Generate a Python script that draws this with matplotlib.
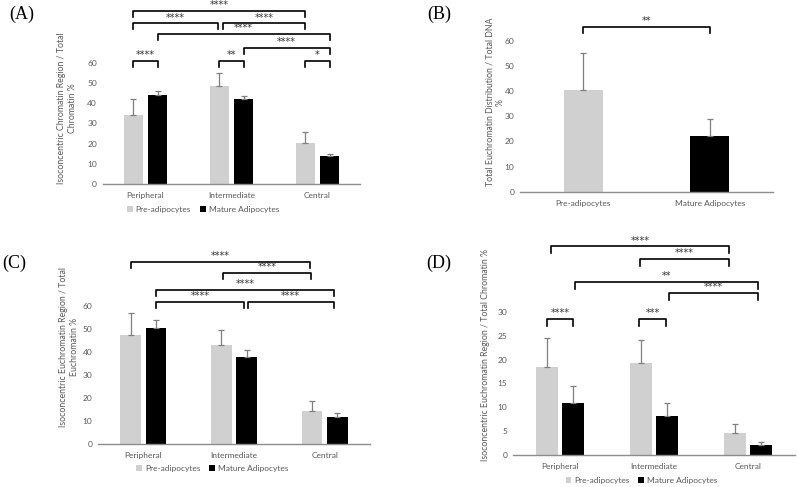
import numpy as np
import matplotlib.pyplot as plt

W, H = 798, 487

# Daten
regions = ["Peripheral", "Intermediate", "Central"]
series = ["Pre-adipocytes", "Mature Adipocytes"]

a_pre = [34, 48.5, 20.5]
a_pre_err = [8, 6.5, 5.5]
a_mat = [44, 42, 14]
a_mat_err = [2, 1.6, 0.8]

b_groups = ["Pre-adipocytes", "Mature Adipocytes"]
b_vals = [40.5, 22]
b_err = [14.5, 7]

c_pre = [47.5, 43, 14.3]
c_pre_err = [9.3, 6.5, 4.5]
c_mat = [50.5, 37.8, 11.8]
c_mat_err = [3.2, 2.9, 1.8]

d_pre = [18.4, 19.3, 4.7]
d_pre_err = [6.2, 4.9, 1.8]
d_mat = [11, 8.2, 2.1]
d_mat_err = [3.4, 2.7, 0.7]

# Signifikanz-Klammern: (x1, x2, y, Beschriftung)
a_sig = [(-0.14, 1.86, 86.2, "****"), (-0.14, 0.84, 80, "****"), (0.90, 1.86, 80, "****"),
         (0.14, 2.14, 74.6, "****"), (1.14, 2.14, 67.6, "****"), (-0.14, 0.14, 61.1, "****"),
         (0.86, 1.14, 61.1, "**"), (1.86, 2.14, 61.1, "*")]
b_sig = [(0, 1, 65.6, "**")]
c_sig = [(-0.14, 1.84, 79.3, "****"), (0.88, 1.85, 74.5, "****"), (0.14, 2.10, 67, "****"),
         (0.14, 1.11, 61.9, "****"), (1.15, 2.10, 61.9, "****")]
d_sig = [(-0.10, 1.80, 43.8, "****"), (0.85, 1.80, 41.1, "****"), (0.16, 2.11, 36.3, "**"),
         (1.16, 2.11, 34.0, "****"), (-0.14, 0.14, 28.5, "****"), (0.84, 1.13, 28.5, "***")]

GRAY = "#d0d0d0"
TXT = "#595959"
FONT = "Lato"

fig = plt.figure(figsize=(W / 100, H / 100), dpi=100)


def add_ax(left, top, right, bottom):
    return fig.add_axes([left / W, 1 - bottom / H, (right - left) / W, (bottom - top) / H])


def style(ax, ymax, step):
    ax.set_ylim(0, ymax)
    ax.set_yticks(np.arange(0, ymax + 0.1, step))
    for s in ["top", "right", "left"]:
        ax.spines[s].set_visible(False)
    ax.spines["bottom"].set_color("#8c8c8c")
    ax.spines["bottom"].set_linewidth(1.0)
    ax.tick_params(axis="both", length=0, labelsize=6, colors=TXT, pad=4)
    ax.tick_params(axis="x", pad=6)
    for t in ax.get_xticklabels() + ax.get_yticklabels():
        t.set_fontfamily(FONT)


def bracket(ax, sig, leg):
    for x1, x2, y, lab in sig:
        ax.plot([x1, x1, x2, x2], [y - leg, y, y, y - leg], color="black", lw=1.2, clip_on=False)
        ax.text((x1 + x2) / 2, y + leg * 0.1, lab, ha="center", va="bottom", fontsize=7,
                color="#333333", clip_on=False)


def grouped(ax, pre, pre_err, mat, mat_err):
    x = np.arange(len(regions))
    ekw = dict(ecolor="#7f7f7f", elinewidth=0.9, capsize=2, capthick=0.9)
    ax.bar(x - 0.14, pre, 0.23, color=GRAY, label=series[0],
           yerr=[np.zeros(3), pre_err], error_kw=ekw)
    ax.bar(x + 0.14, mat, 0.23, color="black", label=series[1],
           yerr=[np.zeros(3), mat_err], error_kw=ekw)
    ax.set_xlim(-0.5, 2.5)
    ax.set_xticks(x)
    ax.set_xticklabels(regions)


def legend(ax, x, y):
    leg = ax.legend(loc="upper center", bbox_to_anchor=(x, y), ncol=2, frameon=False,
                    handlelength=0.7, handleheight=0.7, handletextpad=0.3, columnspacing=1.1,
                    prop={"family": FONT, "size": 6})
    for t in leg.get_texts():
        t.set_color(TXT)


# (A)
axA = add_ax(102.5, 63.3, 360.5, 183.7)
grouped(axA, a_pre, a_pre_err, a_mat, a_mat_err)
style(axA, 60, 10)
bracket(axA, a_sig, 3)
legend(axA, 0.39, -0.12)

# (B)
axB = add_ax(520, 40.7, 773, 191.7)
ekw = dict(ecolor="#7f7f7f", elinewidth=0.9, capsize=2, capthick=0.9)
axB.bar(np.arange(2), b_vals, 0.31, color=[GRAY, "black"],
        yerr=[np.zeros(2), b_err], error_kw=ekw)
axB.set_xlim(-0.5, 1.5)
axB.set_xticks(np.arange(2))
axB.set_xticklabels(b_groups)
style(axB, 60, 10)
bracket(axB, b_sig, 2.4)

# (C)
axC = add_ax(98, 306, 370, 444)
grouped(axC, c_pre, c_pre_err, c_mat, c_mat_err)
style(axC, 60, 10)
bracket(axC, c_sig, 2.6)
legend(axC, 0.42, -0.1)

# (D)
axD = add_ax(513, 312, 795, 455)
grouped(axD, d_pre, d_pre_err, d_mat, d_mat_err)
style(axD, 30, 5)
bracket(axD, d_sig, 1.4)
legend(axD, 0.455, -0.1)

# Achsenbeschriftungen
lab_kw = dict(rotation=90, ha="center", va="center", fontsize=6.3, color=TXT,
              family=FONT, multialignment="center")
fig.text(67 / W, 1 - 108 / H, "Isoconcentric Chromatin Region / Total\nChromatin %", **lab_kw)
fig.text(495 / W, 1 - 102 / H, "Total Euchromatin Distribution / Total DNA\n%", **lab_kw)
fig.text(69 / W, 1 - 347 / H, "Isoconcentric Euchromatin Region / Total\nEuchromatin %", **lab_kw)
fig.text(486 / W, 1 - 355 / H, "Isoconcentric Euchromatin Region / Total Chromatin %", **lab_kw)

# Panel-Buchstaben
for px, py, s in [(22, 14, "(A)"), (439, 14, "(B)"), (14, 263, "(C)"), (439, 263, "(D)")]:
    fig.text(px / W, 1 - py / H, s, ha="center", va="center", fontsize=13,
             family="Liberation Serif")

fig.savefig("out.png", dpi=100)
